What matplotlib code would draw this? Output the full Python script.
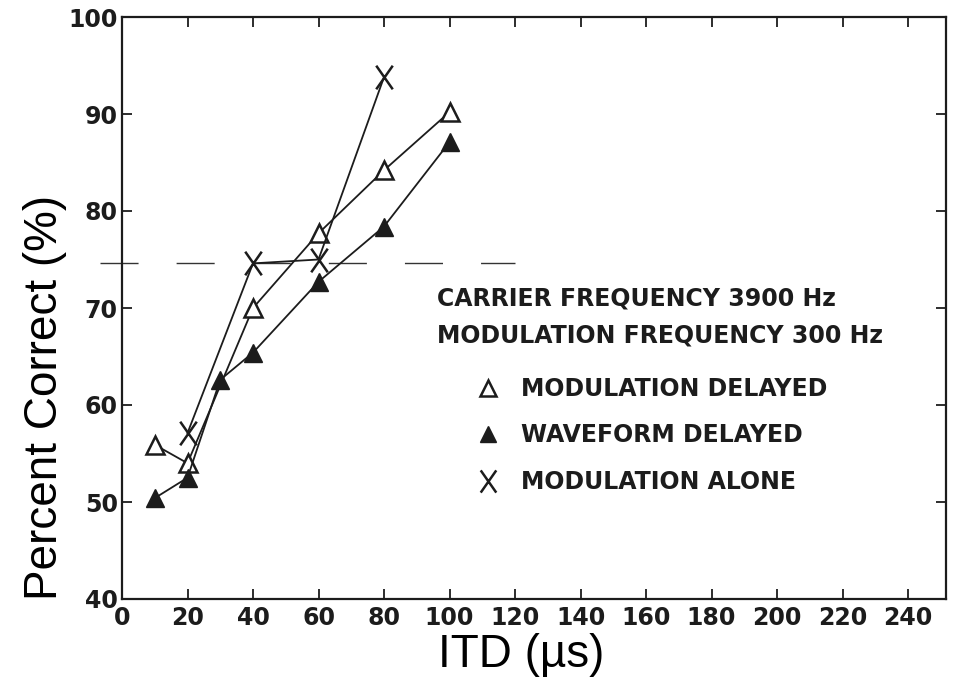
import numpy as np
import matplotlib
matplotlib.use("Agg")
import matplotlib.pyplot as plt
from matplotlib.path import Path
from matplotlib.lines import Line2D

# data (ITD in microseconds, percent correct)
itd_mod_delayed = [10, 20, 40, 60, 80, 100]
pc_mod_delayed = [55.9, 54.0, 70.0, 77.7, 84.2, 90.2]

itd_wave_delayed = [10, 20, 30, 40, 60, 80, 100]
pc_wave_delayed = [50.4, 52.5, 62.6, 65.4, 72.7, 78.4, 87.1]

itd_mod_alone = [20, 40, 60, 80]
pc_mod_alone = [57.1, 74.6, 75.0, 93.8]

threshold = 74.6
threshold_span = [-6.7, 120]

x_ticks = list(range(0, 241, 20))
y_ticks = list(range(40, 101, 10))

header = ["CARRIER FREQUENCY 3900 Hz", "MODULATION FREQUENCY 300 Hz"]
labels = ["MODULATION DELAYED", "WAVEFORM DELAYED", "MODULATION ALONE"]

ink = "#1c1c1c"

# a taller-than-wide X, like the hand lettered one
x_marker = Path([(-0.7, -1), (0.7, 1), (-0.7, 1), (0.7, -1)],
                [Path.MOVETO, Path.LINETO, Path.MOVETO, Path.LINETO])

fig = plt.figure(figsize=(9.55, 6.85), dpi=100)
ax = fig.add_axes([122 / 955, 86 / 685, 824 / 955, 582 / 685])

ax.plot(itd_mod_delayed, pc_mod_delayed, color=ink, lw=1.3, marker="^",
        ms=13, mfc="white", mec=ink, mew=1.8, zorder=3)
ax.plot(itd_wave_delayed, pc_wave_delayed, color=ink, lw=1.3, marker="^",
        ms=13, mfc=ink, mec=ink, zorder=3)
ax.plot(itd_mod_alone, pc_mod_alone, color=ink, lw=1.3, marker=x_marker,
        ms=17, mec=ink, mew=1.8, zorder=3)

# 75% threshold line, drawn a bit past the left spine like the scan
ax.plot(threshold_span, [threshold, threshold], color="#333333", lw=1.0,
        dashes=(27.4, 27.4), clip_on=False, zorder=2)

ax.set_xlim(0, 251.6)
ax.set_ylim(40, 100)
ax.set_xticks(x_ticks)
ax.set_yticks(y_ticks)
ax.tick_params(direction="in", top=True, right=True, length=7, width=1.3,
               labelsize=17, colors=ink)
ax.tick_params(axis="x", pad=5)
ax.tick_params(axis="y", pad=3)
for lab in ax.get_xticklabels() + ax.get_yticklabels():
    lab.set_fontweight("bold")
for sp in ax.spines.values():
    sp.set_linewidth(1.6)
    sp.set_color(ink)

# legend block
fig.text(437 / 955, 1 - 298 / 685, header[0], fontsize=17, fontweight="bold",
         color=ink, va="center", ha="left")
fig.text(437 / 955, 1 - 336 / 685, header[1], fontsize=17, fontweight="bold",
         color=ink, va="center", ha="left")

handles = [
    Line2D([], [], ls="none", marker="^", ms=12, mfc="white", mec=ink, mew=1.8),
    Line2D([], [], ls="none", marker="^", ms=12, mfc=ink, mec=ink),
    Line2D([], [], ls="none", marker=x_marker, ms=16, mec=ink, mew=1.8),
]
leg = fig.legend(handles, labels, loc="upper left",
                 bbox_to_anchor=(478 / 955, 1 - 377 / 685),
                 frameon=False, borderpad=0, borderaxespad=0,
                 handlelength=0.85, handletextpad=0.95, labelspacing=0.95,
                 prop={"size": 17, "weight": "bold"})
for t in leg.get_texts():
    t.set_color(ink)

# axis titles in a plain Arial-like face
fig.text(45 / 955, 1 - 397 / 685, "Percent Correct (%)", rotation=90,
         fontsize=33, family="Liberation Sans", ha="center", va="center")
fig.text(521 / 955, 1 - 655 / 685, "ITD (µs)", fontsize=33,
         family="Liberation Sans", ha="center", va="center")

fig.savefig("out.png", dpi=100, facecolor="white")
